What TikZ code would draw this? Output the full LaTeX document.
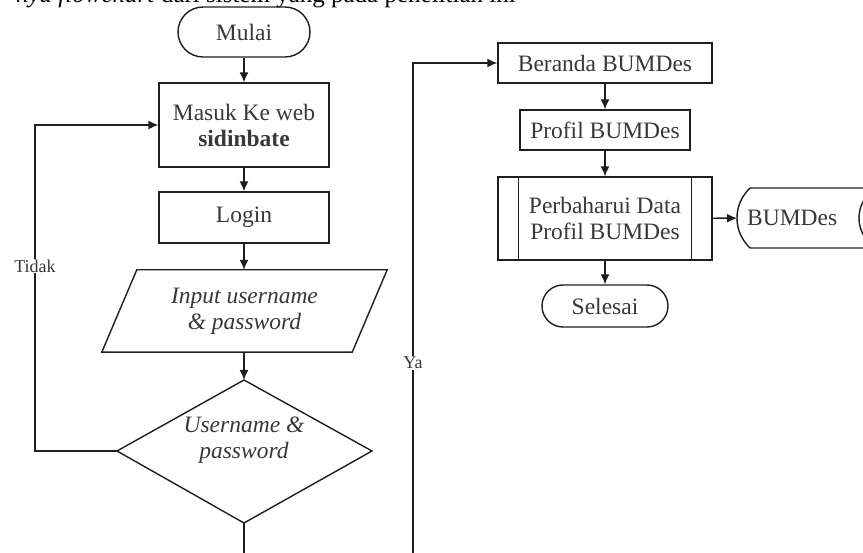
\documentclass[tikz,border=0pt]{standalone}
\usepackage{fontspec}
\setmainfont{Liberation Serif}
\usetikzlibrary{arrows.meta,calc}
\definecolor{linec}{HTML}{1E1E1E}
\definecolor{textc}{HTML}{383838}
\begin{document}
\begin{tikzpicture}[x=1pt,y=-1pt,
  font=\fontsize{23.5}{26}\selectfont,
  line/.style={draw=linec, line width=1.4pt},
  proc/.style={line, text=textc, align=center, inner sep=0pt},
  term/.style={proc},
  arr/.style={line, -{Latex[length=10pt,width=9pt]}},
  lbl/.style={text=textc, fill=white, inner sep=1pt, font=\fontsize{18}{20}\selectfont}
]
\path[use as bounding box] (0,0) rectangle (863,553);
\clip (0,0) rectangle (863,553);

% cut-off caption line at the top
\node[anchor=base east, inner sep=0pt, font=\fontsize{25}{28}\selectfont] (cap) at (516,3) {\textit{nya flowchart} dari sistem yang pada penelitian ini};

% left column
\node[term, minimum width=132pt, minimum height=50pt, rounded corners=25pt] (mulai) at (244,32) {Mulai};
\node[proc, minimum width=170pt, minimum height=84pt] (masuk) at (244,125) {Masuk Ke web\\\textbf{sidinbate}};
\node[proc, minimum width=170pt, minimum height=51pt] (login) at (244,217.5) {Login};
\node[align=center, text=textc, minimum width=285pt, minimum height=82pt, inner sep=0pt] (inp) at (244.5,311) {\textit{Input username}\\\textit{\& password}};
\draw[line] ($(inp.north west)+(35,0)$) -- (inp.north east) -- ($(inp.south east)+(-35,0)$) -- (inp.south west) -- cycle;

\coordinate (dtop) at (244,380);
\coordinate (dright) at (372,451);
\coordinate (dbot) at (244,523);
\coordinate (dleft) at (117,451);
\draw[line] (dtop) -- (dright) -- (dbot) -- (dleft) -- cycle;
\node[text=textc, align=center, inner sep=0pt] (dtext) at (244,440) {\textit{Username \&}\\\textit{password}};

\draw[arr] (mulai) -- (masuk);
\draw[arr] (masuk) -- (login);
\draw[arr] (login) -- (inp.north -| login);
\draw[arr] (inp.south -| dtop) -- (dtop);

\coordinate (dout) at (244,560);
\draw[line] (dbot) -- (dout);

% Tidak loop
\coordinate (tcorner) at (35,451);
\draw[arr] (dleft) -- (tcorner) |- (masuk.west);
\node[lbl] (tidak) at (35,266) {Tidak};

% right column
\node[proc, minimum width=214pt, minimum height=40pt] (ber) at (605,63) {Beranda BUMDes};
\node[proc, minimum width=170pt, minimum height=40pt] (prof) at (605,130) {Profil BUMDes};
\node[proc, minimum width=214pt, minimum height=83pt] (per) at (605,218.5) {Perbaharui Data\\Profil BUMDes};
\draw[line] ($(per.north west)+(21,0)$) -- ($(per.south west)+(21,0)$);
\draw[line] ($(per.north east)+(-21,0)$) -- ($(per.south east)+(-21,0)$);
\node[term, minimum width=126pt, minimum height=42pt, rounded corners=21pt] (sel) at (605,306) {Selesai};

\draw[arr] (ber) -- (prof);
\draw[arr] (prof) -- (per);
\draw[arr] (per) -- (sel);

% Ya line
\coordinate (yb) at (413,560);
\draw[arr] (yb) |- (ber.west);
\node[lbl] (ya) at (413,363) {Ya};

% stored data
\node[text=textc, inner sep=0pt, minimum width=110pt, minimum height=60pt, anchor=west] (bum) at (737,218) {BUMDes};
\draw[line] (750,188) -- (874,188) .. controls (864,197) and (859,207) .. (859,218)
  .. controls (859,229) and (864,239) .. (874,248) -- (750,248)
  .. controls (741,239) and (737,229) .. (737,218)
  .. controls (737,207) and (741,197) .. (750,188) -- cycle;
\draw[arr] (per) -- (bum);
\end{tikzpicture}
\end{document}
